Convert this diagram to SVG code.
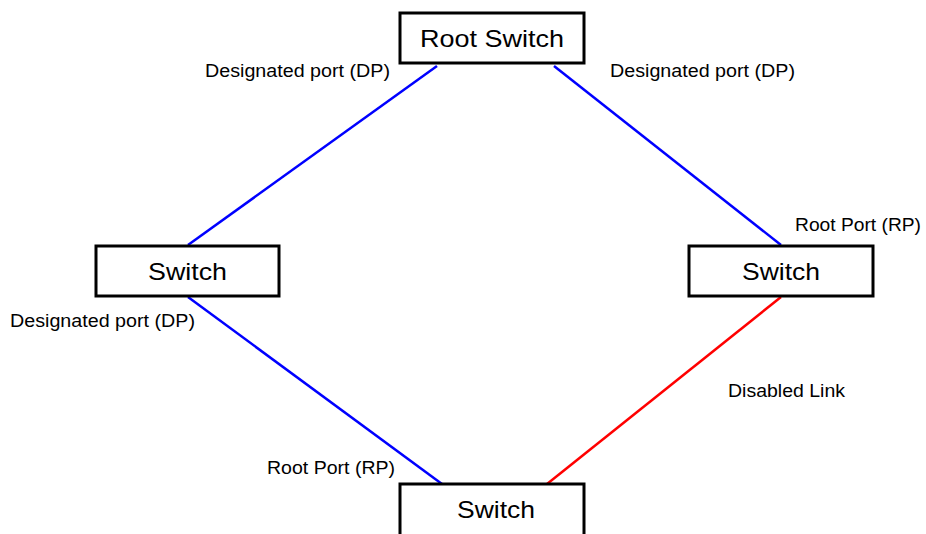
<svg xmlns="http://www.w3.org/2000/svg" width="926" height="534" viewBox="0 0 926 534">
<style>
.box{fill:#fff;stroke:#000;stroke-width:3}
.nt{font-family:"Liberation Sans",Arial,sans-serif;font-size:24px;fill:#000}
.lb{font-family:"Liberation Sans",Arial,sans-serif;font-size:17.5px;fill:#000}
.blue{stroke:#0000ff;stroke-width:2.5;fill:none}
.red{stroke:#ff0000;stroke-width:2.5;fill:none}
</style>
<rect width="926" height="534" fill="#fff"/>
<g id="connectors">
<line class="blue" x1="437" y1="66" x2="188" y2="245"/>
<line class="blue" x1="554" y1="66" x2="781" y2="245"/>
<line class="blue" x1="188" y1="297" x2="442" y2="484"/>
<line class="red" x1="781" y1="297" x2="547" y2="484"/>
</g>
<g id="root">
<rect class="box" x="400" y="13" width="184" height="50"/>
<text class="nt" x="420" y="47" textLength="144" lengthAdjust="spacingAndGlyphs">Root Switch</text>
</g>
<g id="switch-left">
<rect class="box" x="96" y="246" width="183" height="50"/>
<text class="nt" x="148" y="280" textLength="79" lengthAdjust="spacingAndGlyphs">Switch</text>
</g>
<g id="switch-right">
<rect class="box" x="689" y="246" width="184" height="50"/>
<text class="nt" x="742" y="280" textLength="78" lengthAdjust="spacingAndGlyphs">Switch</text>
</g>
<g id="switch-bottom">
<rect class="box" x="400" y="484" width="184" height="60"/>
<text class="nt" x="457" y="518" textLength="78" lengthAdjust="spacingAndGlyphs">Switch</text>
</g>
<g id="labels">
<text class="lb" x="205" y="77" textLength="185" lengthAdjust="spacingAndGlyphs">Designated port (DP)</text>
<text class="lb" x="610" y="77" textLength="185" lengthAdjust="spacingAndGlyphs">Designated port (DP)</text>
<text class="lb" x="795" y="231" textLength="126" lengthAdjust="spacingAndGlyphs">Root Port (RP)</text>
<text class="lb" x="10" y="327" textLength="185" lengthAdjust="spacingAndGlyphs">Designated port (DP)</text>
<text class="lb" x="728" y="397" textLength="117" lengthAdjust="spacingAndGlyphs">Disabled Link</text>
<text class="lb" x="267" y="474" textLength="128" lengthAdjust="spacingAndGlyphs">Root Port (RP)</text>
</g>
</svg>
